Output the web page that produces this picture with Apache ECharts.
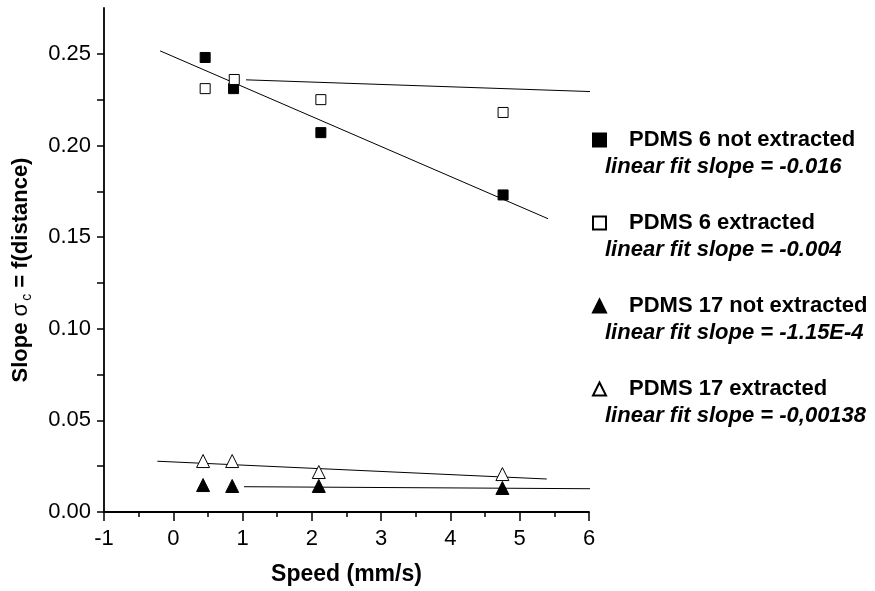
<!DOCTYPE html>
<html>
<head>
<meta charset="utf-8">
<script src="https://cdn.jsdelivr.net/npm/echarts@6/dist/echarts.min.js"></script>
<style>
  html, body { margin: 0; padding: 0; background: #fff; }
  #chart { width: 875px; height: 591px; }
</style>
</head>
<body>
<div id="chart"></div>
<script>
// speed (mm/s) and slope values
const pdms6NotExtracted = [[0.46, 0.248], [0.87, 0.231], [2.13, 0.207], [4.76, 0.173]];
const pdms6Extracted = [[0.46, 0.231], [0.88, 0.236], [2.13, 0.225], [4.76, 0.218]];
const pdms17NotExtracted = [[0.43, 0.0147], [0.85, 0.0142], [2.1, 0.0142], [4.75, 0.0131]];
const pdms17Extracted = [[0.43, 0.0278], [0.85, 0.0278], [2.1, 0.0218], [4.75, 0.0207]];

// end points of the fitted lines
const fit6NotExtracted = [[-0.19, 0.2516], [5.41, 0.160]];
const fit6Extracted = [[1.05, 0.2358], [6.02, 0.2294]];
const fit17NotExtracted = [[1.02, 0.0138], [6.02, 0.0127]];
const fit17Extracted = [[-0.23, 0.0277], [5.39, 0.018]];

const seriesNames = ['PDMS 6 not extracted', 'PDMS 6 extracted', 'PDMS 17 not extracted', 'PDMS 17 extracted'];
const fitLabels = ['linear fit slope = -0.016', 'linear fit slope = -0.004', 'linear fit slope = -1.15E-4', 'linear fit slope = -0,00138'];

const font = 'Liberation Sans, Arial, sans-serif';

const chart = echarts.init(document.getElementById('chart'));

function scatter(name, data, symbol, size, filled) {
    return {
        name: name,
        type: 'scatter',
        data: data,
        symbol: symbol,
        symbolSize: size,
        itemStyle: {
            color: filled ? '#000' : '#fff',
            borderColor: '#000',
            borderWidth: 1,
            opacity: 1
        },
        z: 3
    };
}

function fitLine(data) {
    return {
        type: 'line',
        data: data,
        symbol: 'none',
        silent: true,
        lineStyle: { color: '#000', width: 1 },
        z: 2
    };
}

const option = {
    backgroundColor: '#fff',
    animation: false,
    textStyle: { fontFamily: font },
    grid: { left: 104, right: 286, top: 8, bottom: 78 },
    xAxis: {
        type: 'value',
        min: -1,
        max: 6,
        interval: 1,
        name: 'Speed (mm/s)',
        nameLocation: 'middle',
        nameGap: 51,
        nameTextStyle: { fontSize: 23, fontWeight: 'bold', color: '#000', fontFamily: font },
        axisLine: { onZero: false, lineStyle: { color: '#000', width: 1.8 } },
        axisTick: { length: 9, lineStyle: { color: '#000', width: 1.5 } },
        minorTick: { show: true, splitNumber: 2, length: 5, lineStyle: { color: '#000', width: 1.5 } },
        axisLabel: { fontSize: 22, color: '#000', margin: 16, fontFamily: font },
        splitLine: { show: false }
    },
    yAxis: {
        type: 'value',
        min: 0,
        max: 0.275,
        interval: 0.025,
        name: '{a|Slope }{b|σ}{c|c}{a| = f(distance)}',
        nameLocation: 'middle',
        nameGap: 70,
        nameTextStyle: {
            color: '#000',
            padding: [0, 20, 0, 0],
            rich: {
                a: { fontSize: 22, fontWeight: 'bold', color: '#000', fontFamily: font },
                b: { fontSize: 22, color: '#000', fontFamily: font },
                c: { fontSize: 14, color: '#000', fontFamily: font, padding: [12, 0, 0, 2] }
            }
        },
        axisLine: { show: true, onZero: false, lineStyle: { color: '#000', width: 1.8 } },
        axisTick: { show: true, length: 7, lineStyle: { color: '#000', width: 1.5 } },
        axisLabel: {
            fontSize: 22,
            color: '#000',
            margin: 13,
            fontFamily: font,
            showMaxLabel: false,
            formatter: v => (Math.round(v * 1000) % 50 === 0 ? v.toFixed(2) : '')
        },
        splitLine: { show: false }
    },
    legend: {
        data: seriesNames,
        orient: 'vertical',
        left: 587,
        top: 124,
        itemWidth: 13,
        itemHeight: 13,
        itemGap: 61,
        selectedMode: false,
        textStyle: {
            fontSize: 22,
            fontWeight: 'bold',
            color: '#000',
            fontFamily: font,
            lineHeight: 22,
            padding: [0, 0, 0, 18]
        }
    },
    graphic: fitLabels.map((t, i) => ({
        type: 'text',
        left: 605,
        top: 156 + i * 83,
        style: {
            text: t,
            fontSize: 22,
            fontWeight: 'bold',
            fontStyle: 'italic',
            fill: '#000',
            fontFamily: font
        }
    })),
    series: [
        scatter(seriesNames[0], pdms6NotExtracted, 'rect', 10, true),
        scatter(seriesNames[1], pdms6Extracted, 'rect', 10, false),
        scatter(seriesNames[2], pdms17NotExtracted, 'triangle', 13, true),
        scatter(seriesNames[3], pdms17Extracted, 'triangle', 13, false),
        fitLine(fit6NotExtracted),
        fitLine(fit6Extracted),
        fitLine(fit17NotExtracted),
        fitLine(fit17Extracted)
    ]
};

option && chart.setOption(option);
</script>
</body>
</html>
